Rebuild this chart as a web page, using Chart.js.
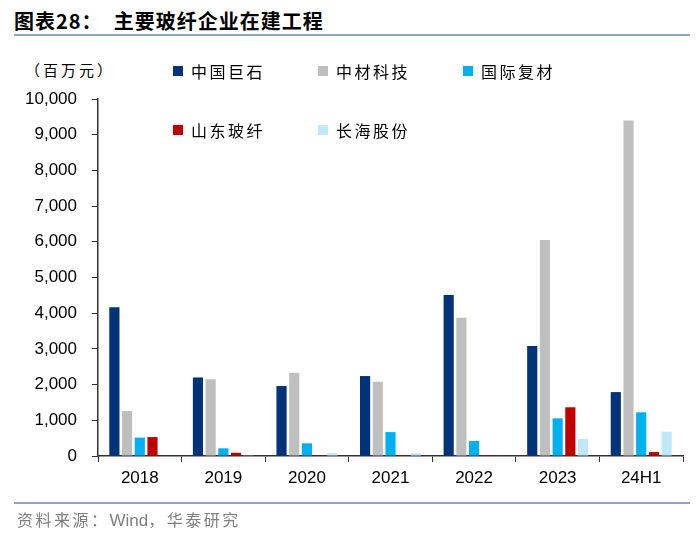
<!DOCTYPE html>
<html>
<head>
<meta charset="utf-8">
<script src="https://cdn.jsdelivr.net/npm/chart.js@4.4.1/dist/chart.umd.min.js"></script>
<style>
  body { margin: 0; background: #fff; font-family: "Noto Sans CJK SC", "Liberation Sans", sans-serif; }
  #wrap { position: relative; width: 700px; height: 535px; overflow: hidden; }
  #chart { position: absolute; left: 0; top: 0; }
  .title { position: absolute; left: 14px; top: 6px; font-size: 20px; font-weight: bold; color: #000; letter-spacing: 1px; }
  .rule { position: absolute; left: 14px; width: 676px; height: 2px; background: #8aa4cc; }
  .unit { position: absolute; left: 25px; top: 59px; font-size: 15px; color: #000; letter-spacing: 3px; }
  .src { position: absolute; left: 17px; top: 507px; font-size: 16px; color: #7f7f7f; letter-spacing: 2.5px; }
  .src span { letter-spacing: 0; font-family: "Liberation Sans", sans-serif; font-size: 17px; }
  .leg { position: absolute; font-size: 16px; color: #000; letter-spacing: 2.5px; }
  .leg i { position: absolute; left: -18px; top: 7px; width: 10px; height: 10px; }
</style>
</head>
<body>
<div id="wrap">
  <div class="title">图表28：&nbsp; 主要玻纤企业在建工程</div>
  <div class="rule" style="top:34px"></div>
  <div class="unit">（百万元）</div>
  <canvas id="chart" width="700" height="535"></canvas>
  <div id="legend"></div>
  <div class="rule" style="top:502px"></div>
  <div class="src">资料来源：<span>Wind</span>，华泰研究</div>
</div>
<script>
// categories and series (百万元)
var periods = ['2018', '2019', '2020', '2021', '2022', '2023', '24H1'];
var jushi    = [4170, 2200, 1960, 2240, 4510, 3080, 1790];   // 中国巨石
var zhongcai = [1260, 2150, 2330, 2080, 3870, 6050, 9400];   // 中材科技
var guoji    = [515, 215, 355, 670, 420, 1055, 1225];        // 国际复材
var shandong = [530, 90, 5, 5, 5, 1365, 110];                // 山东玻纤
var changhai = [0, 20, 90, 80, 15, 475, 680];                // 长海股份

var seriesNames = ['中国巨石', '中材科技', '国际复材', '山东玻纤', '长海股份'];
var seriesData = [jushi, zhongcai, guoji, shandong, changhai];
var seriesColors = ['#003378', '#bfbfbf', '#00b0f0', '#c00000', '#bfe9fb'];

// legend spots, 3 per row
var legPos = [[191, 59], [336, 59], [481, 59], [191, 118], [336, 118]];
var legend = document.getElementById('legend');
seriesNames.forEach(function(name, i) {
  var d = document.createElement('div');
  d.className = 'leg';
  d.style.left = legPos[i][0] + 'px';
  d.style.top = legPos[i][1] + 'px';
  d.innerHTML = '<i style="background:' + seriesColors[i] + '"></i>' + name;
  legend.appendChild(d);
});

var ctx = document.getElementById('chart').getContext('2d');
var chart = new Chart(ctx, {
  type: 'bar',
  data: {
    labels: periods,
    datasets: seriesNames.map(function(name, i) {
      return {
        label: name,
        data: seriesData[i],
        backgroundColor: seriesColors[i],
        borderWidth: 0,
        categoryPercentage: 0.76,
        barPercentage: 0.8
      };
    })
  },
  options: {
    responsive: false,
    animation: false,
    layout: { padding: { top: 99, right: 17, bottom: 44, left: 0 } },
    plugins: { legend: { display: false }, tooltip: { enabled: false } },
    scales: {
      x: {
        grid: { drawOnChartArea: false, tickLength: 6, color: '#333', offset: true },
        border: { color: '#333', width: 1.5 },
        ticks: { color: '#000', padding: 6, font: { family: 'Liberation Sans', size: 17 } },
        afterFit: function(scale) { scale.height = 35; }
      },
      y: {
        min: 0,
        max: 10000,
        grid: { drawOnChartArea: false, tickLength: 6, color: '#333' },
        border: { color: '#333', width: 1.5 },
        ticks: {
          stepSize: 1000,
          color: '#000',
          padding: 15,
          font: { family: 'Liberation Sans', size: 17 },
          callback: function(value) { return value.toLocaleString('en-US'); }
        },
        afterFit: function(scale) { scale.width = 98; }
      }
    }
  }
});
</script>
</body>
</html>
